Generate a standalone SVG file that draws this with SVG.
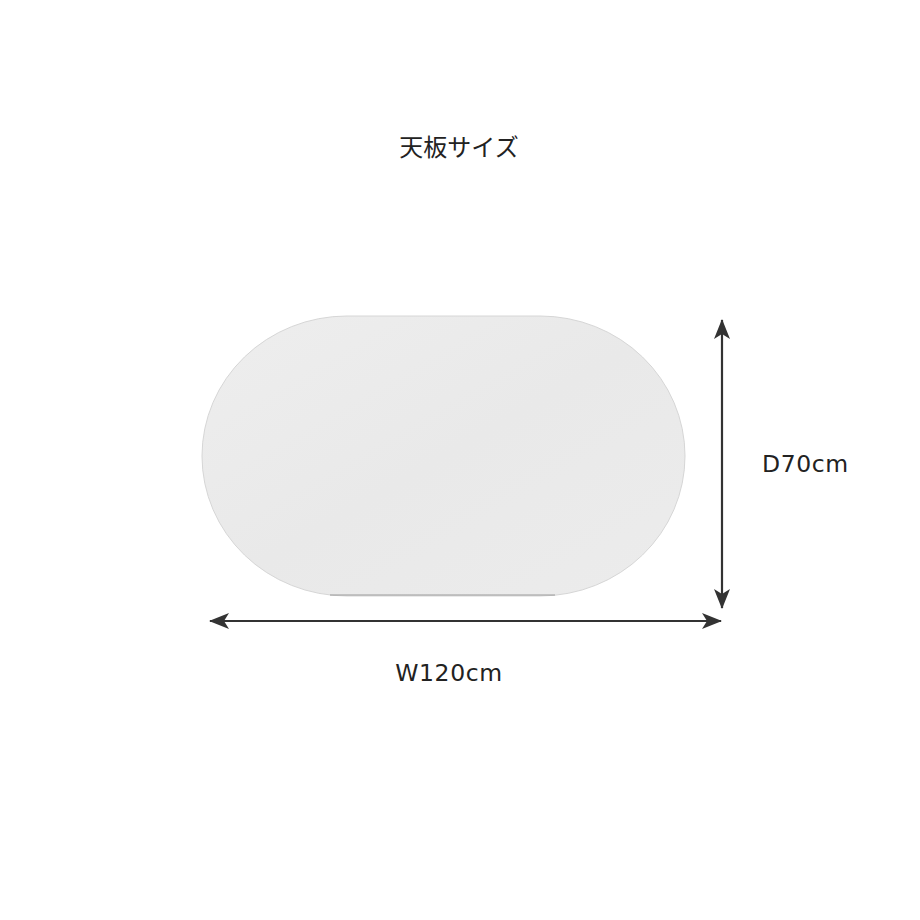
<svg xmlns="http://www.w3.org/2000/svg" width="920" height="920" viewBox="0 0 920 920">
  <style>
    .lbl { font-family: "DejaVu Sans", "Noto Sans", sans-serif; fill: #222; font-size: 23.5px; letter-spacing: 0.6px; }
    .jp { font-family: "Noto Sans CJK JP", sans-serif; fill: #222; font-size: 24px; }
    .dim { stroke: #333; stroke-width: 2.2; fill: none; }
  </style>
  <defs>
    <marker id="ah" viewBox="0 0 20 16" refX="19" refY="8" markerWidth="20" markerHeight="16" markerUnits="userSpaceOnUse" orient="auto-start-reverse">
      <path d="M0,0 L20,8 L0,16 L5,8 Z" fill="#333"/>
    </marker>
    <linearGradient id="top" x1="0" y1="0" x2="1" y2="1">
      <stop offset="0" stop-color="#eeeeee"/>
      <stop offset="0.5" stop-color="#e9e9e9"/>
      <stop offset="1" stop-color="#ececec"/>
    </linearGradient>
  </defs>
  <rect width="920" height="920" fill="#fff"/>
  <text class="jp" x="459" y="156" text-anchor="middle">天板サイズ</text>
  <g id="tabletop">
    <path d="M347,316 L540,316 A145,140 0 0 1 540,596 L347,596 A145,140 0 0 1 347,316 Z" fill="url(#top)" stroke="#d6d6d6" stroke-width="1"/>
    <path d="M330,595 L555,595" stroke="#9a9a9a" stroke-width="1"/>
  </g>
  <g id="connectors">
    <line class="dim" x1="722" y1="320" x2="722" y2="608" marker-start="url(#ah)" marker-end="url(#ah)"/>
    <line class="dim" x1="210" y1="621" x2="721" y2="621" marker-start="url(#ah)" marker-end="url(#ah)"/>
  </g>
  <text class="lbl" x="449" y="681" text-anchor="middle">W120cm</text>
  <text class="lbl" x="762" y="472">D70cm</text>
</svg>
